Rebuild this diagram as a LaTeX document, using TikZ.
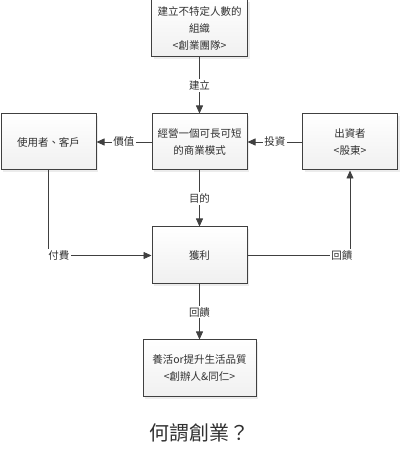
\documentclass[tikz,border=0pt]{standalone}
\usepackage{fontspec}
\setmainfont{Noto Sans CJK TC}
\usetikzlibrary{arrows.meta,shadows}
\definecolor{linegray}{HTML}{404040}
\definecolor{textgray}{HTML}{303030}
\tikzset{
    box/.style={draw=linegray, line width=1pt, top color=white, bottom color=gray!12,
        drop shadow={shadow xshift=2pt, shadow yshift=-2pt, fill=gray!25, opacity=0.6},
        align=center, inner sep=2pt, font=\fontsize{10.5}{17}\selectfont, text=textgray},
    conn/.style={draw=linegray, line width=0.8pt, -{Triangle[length=8pt,width=7pt]}},
    lbl/.style={fill=white, inner sep=1.5pt, font=\fontsize{10.5}{13}\selectfont, text=textgray}
}
\begin{document}
\begin{tikzpicture}[x=1pt, y=1pt]
            \useasboundingbox (0,0) rectangle (400,451);
            \node [box, minimum width=96pt, minimum height=57pt] (org) at (199.5,422.5) {建立不特定人數的\\組織\\<創業團隊>};
            \node [box, minimum width=95pt, minimum height=56pt] (model) at (199.5,309) {經營一個可長可短\\的商業模式};
            \node [box, minimum width=95pt, minimum height=56pt] (user) at (48.5,309) {使用者、客戶};
            \node [box, minimum width=95pt, minimum height=56pt] (investor) at (350,309) {出資者\\<股東>};
            \node [box, minimum width=95pt, minimum height=57pt] (profit) at (199.5,195.5) {獲利};
            \node [box, minimum width=113pt, minimum height=57pt] (living) at (199.5,82.5) {養活or提升生活品質\\<創辦人\&同仁>};
            \node [font=\fontsize{20}{24}\selectfont, text=textgray] (title) at (199.5,18) {何謂創業？};
            \draw [conn] (org) -- node [lbl] {建立} (model);
            \draw [conn] (model) -- node [lbl] {價值} (user);
            \draw [conn] (investor) -- node [lbl] {投資} (model);
            \draw [conn] (model) -- node [lbl] {目的} (profit);
            \draw [conn] (user.south) |- node [lbl, pos=0.55] {付費} (profit.west);
            \draw [conn] (profit.east) -| node [lbl, pos=0.46] {回饋} (investor.south);
            \draw [conn] (profit) -- node [lbl] {回饋} (living);
        \end{tikzpicture}
\end{document}
